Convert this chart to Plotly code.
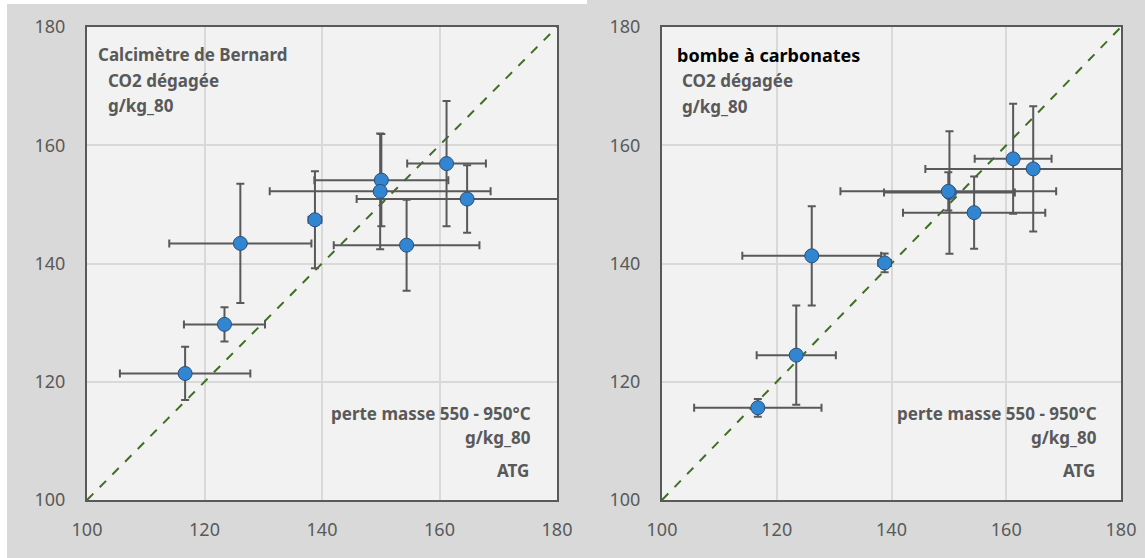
import plotly.graph_objects as go

# ATG (x) shared by both panels
atg_x = [116.7, 123.4, 126.1, 138.8, 150.1, 149.9, 161.2, 164.7, 154.4]
atg_xerr = [11.1, 6.9, 12.1, 1.1, 11.4, 18.8, 6.7, 18.8, 12.4]

# Calcimètre de Bernard (left panel)
bern_y = [121.4, 129.7, 143.4, 147.4, 154.1, 152.2, 156.9, 150.9, 143.1]
bern_yerr = [4.5, 2.9, 10.1, 8.2, 7.8, 9.8, 10.6, 5.7, 7.7]

# bombe à carbonates (right panel)
bomb_y = [115.6, 124.5, 141.3, 140.1, 152.0, 152.2, 157.7, 156.0, 148.6]
bomb_yerr = [1.5, 8.4, 8.4, 1.6, 10.35, 3.25, 9.3, 10.6, 6.1]

axis_range = [100, 180]
tick_vals = [100, 120, 140, 160, 180]

W, H = 1145, 558
GREY_TXT = "#595959"
FONT = "Noto Sans"

def px(x):
    return x / W

def py(y):
    return 1 - y / H

fig = go.Figure()

def add_panel(ys, yerr, xa, ya):
    fig.add_trace(go.Scatter(
        x=axis_range, y=axis_range, mode="lines",
        line=dict(color="#3f6f23", width=2, dash="dash"),
        xaxis=xa, yaxis=ya, showlegend=False, hoverinfo="skip"))
    fig.add_trace(go.Scatter(
        x=atg_x, y=ys, mode="markers",
        marker=dict(size=14, color="#3185d1", line=dict(color="#2a4f78", width=1)),
        error_x=dict(type="data", array=atg_xerr, color="#595959", thickness=2, width=4),
        error_y=dict(type="data", array=yerr, color="#595959", thickness=2, width=4),
        xaxis=xa, yaxis=ya, showlegend=False))

add_panel(bern_y, bern_yerr, "x", "y")
add_panel(bomb_y, bomb_yerr, "x2", "y2")

ydom = [py(500), py(27)]
common = dict(range=axis_range, tickvals=tick_vals, showgrid=True,
              gridcolor="#d9d9d9", gridwidth=1.5, showline=True, mirror=True,
              linecolor="#595959", linewidth=2, zeroline=False, ticks="",
              automargin=False,
              tickfont=dict(family=FONT, size=18, color=GREY_TXT))

fig.update_layout(
    width=W, height=H, autosize=False, margin=dict(l=0, r=0, t=0, b=0, pad=0),
    paper_bgcolor="#d9d9d9", plot_bgcolor="#f2f2f2",
    xaxis=dict(domain=[px(87), px(557)], anchor="y", ticklabelstandoff=12, **common),
    yaxis=dict(domain=ydom, anchor="x", ticklabelstandoff=16, **common),
    xaxis2=dict(domain=[px(662), px(1121)], anchor="y2", ticklabelstandoff=12, **common),
    yaxis2=dict(domain=ydom, anchor="x2", ticklabelstandoff=16, **common),
    shapes=[
        dict(type="rect", xref="paper", yref="paper", x0=0, x1=px(7), y0=0, y1=1,
             fillcolor="white", line=dict(width=0), layer="below"),
        dict(type="rect", xref="paper", yref="paper", x0=0, x1=px(587), y0=py(4), y1=1,
             fillcolor="white", line=dict(width=0), layer="below"),
    ],
)

def ann(text, x, y, anchor, color=GREY_TXT, size=17):
    fig.add_annotation(text=text, x=px(x), y=py(y), xref="paper", yref="paper",
                       xanchor=anchor, yanchor="middle", showarrow=False,
                       font=dict(family=FONT, size=size, color=color, weight="bold"))

ann("Calcimètre de Bernard", 96, 55, "left")
ann("CO2 dégagée", 106, 80, "left")
ann("g/kg_80", 106, 105, "left")
ann("bombe à carbonates", 675, 55, "left", color="#000000", size=18)
ann("CO2 dégagée", 680, 81, "left")
ann("g/kg_80", 680, 106, "left")

for xr in (533, 1099):
    ann("perte masse 550 - 950°C", xr, 413, "right")
    ann("g/kg_80", xr, 437, "right")
    ann("ATG", xr - 2, 470, "right")

fig.write_html("out.html")
